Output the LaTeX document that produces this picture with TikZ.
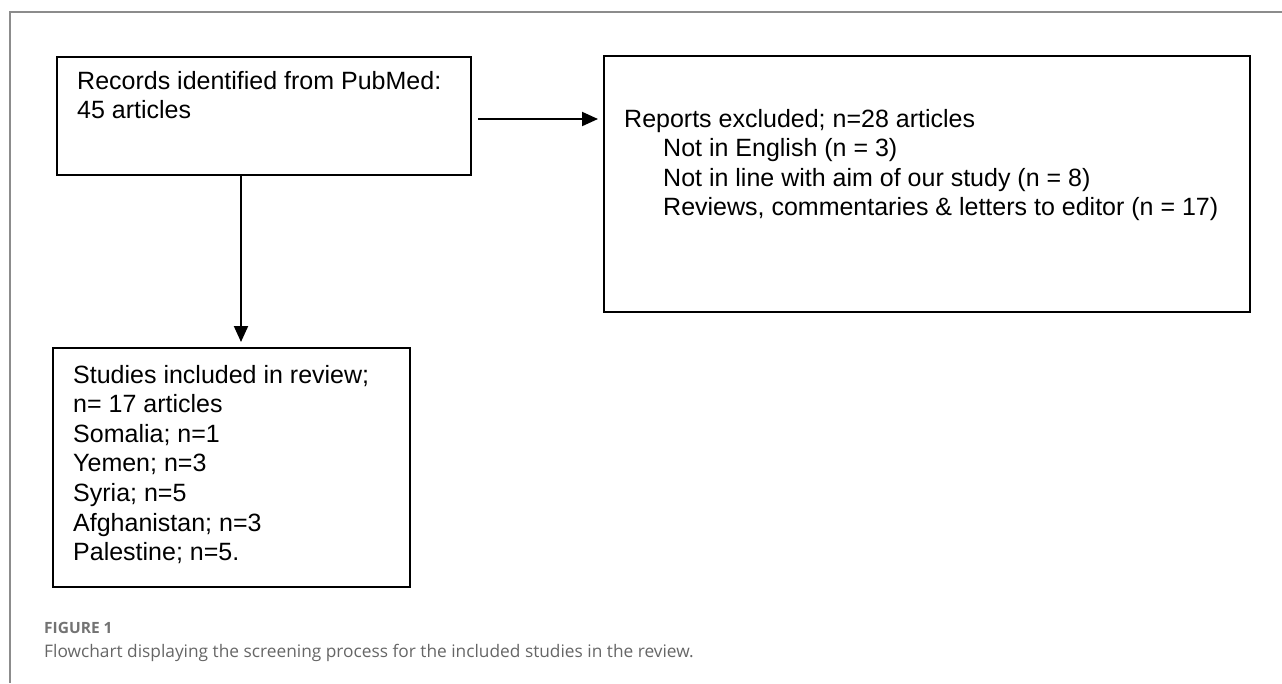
\documentclass[tikz,border=0pt]{standalone}
\usepackage{fontspec}
\setmainfont{Liberation Sans}
\newfontfamily\capfont{Open Sans}
\usetikzlibrary{arrows.meta,positioning}

\begin{document}
\begin{tikzpicture}[
  x=1pt, y=-1pt,
  font=\fontsize{25}{29.6}\selectfont,
  box/.style={draw, line width=2pt, inner sep=0pt, anchor=north west},
  boxtext/.style={align=left, inner sep=0pt},
  flow/.style={draw, line width=2pt, -{Triangle[length=16pt,width=14pt]}},
  frame/.style={draw=black!45, line width=1.2pt},
  caption/.style={anchor=base west, inner sep=0pt, text=black!60}
]
  \useasboundingbox (0,0) rectangle (1282,683);
  \draw[frame] (1282,12) -- (10,12) -- (10,683);

  \node[box, minimum width=414pt, minimum height=118pt] (rec) at (56,56) {};
  \node[box, minimum width=646pt, minimum height=256pt] (excl) at (603,55) {};
  \node[box, minimum width=357pt, minimum height=239pt] (incl) at (52,347) {};

  \node[boxtext, below right=14.7pt and 21pt of rec.north west] (rectxt)
    {Records identified from PubMed:\\45 articles};
  \node[boxtext, below right=53.7pt and 21pt of excl.north west] (excltxt)
    {Reports excluded; n=28 articles\\
     \hspace*{39pt}Not in English (n = 3)\\
     \hspace*{39pt}Not in line with aim of our study (n = 8)\\
     \hspace*{39pt}Reviews, commentaries \& letters to editor (n = 17)};
  \node[boxtext, below right=17.7pt and 21pt of incl.north west] (incltxt)
    {Studies included in review;\\n= 17 articles\\Somalia; n=1\\Yemen; n=3\\
     Syria; n=5\\Afghanistan; n=3\\Palestine; n=5.};

  \draw[flow, shorten <=6pt, shorten >=5pt] ([yshift=-3pt]rec.east) coordinate (r0) -- (r0 -| excl.west);
  \draw[flow, shorten >=5pt] ([xshift=-23pt]rec.south) coordinate (d0) -- (d0 |- incl.north);

  \node[caption, font=\capfont\bfseries\fontsize{15.5}{18}\selectfont, text=black!55] (fig) at (44,633) {FIGURE 1};
  \node[caption, font=\capfont\fontsize{17.3}{20}\selectfont] (cap) at (44,657)
    {Flowchart displaying the screening process for the included studies in the review.};
\end{tikzpicture}
\end{document}
